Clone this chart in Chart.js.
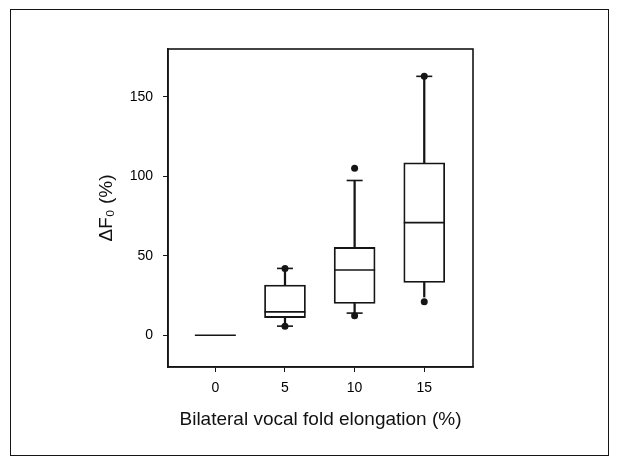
<!DOCTYPE html>
<html>
<head>
<meta charset="utf-8">
<title>Delta F0 vs vocal fold elongation</title>
<script src="https://cdn.jsdelivr.net/npm/chart.js@4/dist/chart.umd.min.js"></script>
<style>
    html, body { margin: 0; padding: 0; background: #fff; }
    #wrap { position: relative; width: 621px; height: 465px; }
    #frame {
        position: absolute; left: 10px; top: 9px; width: 597px; height: 445px;
        border: 1.5px solid #151515; pointer-events: none;
    }
    canvas { position: absolute; left: 0; top: 0; }
</style>
</head>
<body>
<div id="wrap">
    <canvas id="boxChart" width="621" height="465"></canvas>
    <div id="frame"></div>
</div>
<script>
// elongation groups (%)
const groups = [0, 5, 10, 15];
const xTicks = [0, 5, 10, 15];
const yTicks = [0, 50, 100, 150];

// box plot stats (null = no box)
const q1 = [null, 11.1, 20.0, 33.2];
const q3 = [null, 31.5, 55.2, 108.4];
const medians = [0, 14.7, 41.0, 70.8];
const whiskerLow = [null, 5.7, 13.9, 24.0];
const whiskerHigh = [null, 42.0, 97.3, 162.8];
const capLow = [null, 5.7, 13.9, null];
const capHigh = [null, 42.0, 97.3, 162.8];
const outlierX = [5, 5, 10, 10, 15, 15];
const outlierY = [5.7, 42.0, 12.2, 105.0, 21.0, 162.8];

const INK = '#151515';

function ranges(lo, hi) {
    return groups
        .map((g, i) => (lo[i] == null || hi[i] == null) ? null : { x: g, y: [lo[i], hi[i]] })
        .filter(d => d !== null);
}
function points(vals) {
    return groups
        .map((g, i) => vals[i] == null ? null : { x: g, y: vals[i] })
        .filter(d => d !== null);
}

// top/right sides of the plot frame
const plotFrame = {
    id: 'plotFrame',
    afterDraw(chart) {
        const a = chart.chartArea;
        const ctx = chart.ctx;
        ctx.save();
        ctx.strokeStyle = INK;
        ctx.lineWidth = 1.6;
        ctx.strokeRect(a.left, a.top, a.right - a.left, a.bottom - a.top);
        ctx.restore();
    }
};

const ctx = document.getElementById('boxChart').getContext('2d');
new Chart(ctx, {
    type: 'bar',
    data: {
        datasets: [
            {
                label: 'IQR',
                data: ranges(q1, q3),
                backgroundColor: '#fff',
                borderColor: INK,
                borderWidth: 1.8,
                borderSkipped: false,
                barThickness: 41,
                grouped: false,
                order: 3
            },
            {
                label: 'upper whisker',
                data: ranges(q3, whiskerHigh),
                backgroundColor: INK,
                borderWidth: 0,
                barThickness: 1.6,
                grouped: false,
                order: 4
            },
            {
                label: 'lower whisker',
                data: ranges(whiskerLow, q1),
                backgroundColor: INK,
                borderWidth: 0,
                barThickness: 1.6,
                grouped: false,
                order: 4
            },
            {
                type: 'scatter',
                label: 'median',
                data: points(medians),
                pointStyle: 'line',
                pointRadius: 20.5,
                borderColor: INK,
                borderWidth: 1.6,
                order: 1
            },
            {
                type: 'scatter',
                label: 'caps',
                data: points(capLow).concat(points(capHigh)),
                pointStyle: 'line',
                pointRadius: 8,
                borderColor: INK,
                borderWidth: 1.6,
                order: 2
            },
            {
                type: 'scatter',
                label: 'outliers',
                data: outlierX.map((x, i) => ({ x: x, y: outlierY[i] })),
                pointStyle: 'circle',
                pointRadius: 3.5,
                backgroundColor: INK,
                borderColor: INK,
                borderWidth: 0,
                order: 0
            }
        ]
    },
    options: {
        responsive: false,
        animation: false,
        events: [],
        layout: { padding: { left: 90, right: 148, top: 49, bottom: 28 } },
        plugins: {
            legend: { display: false },
            tooltip: { enabled: false }
        },
        scales: {
            x: {
                type: 'linear',
                min: -3.4,
                max: 18.5,
                offset: false,
                afterBuildTicks: s => { s.ticks = xTicks.map(v => ({ value: v })); },
                afterFit: s => { s.height = 70; },
                grid: {
                    offset: false,
                    drawOnChartArea: false,
                    drawTicks: true,
                    tickLength: 5,
                    color: INK
                },
                border: { display: true, color: INK, width: 1.6 },
                ticks: {
                    padding: 8,
                    color: '#000',
                    font: { family: 'Liberation Sans, Arial, sans-serif', size: 14 }
                },
                title: {
                    display: true,
                    text: 'Bilateral vocal fold elongation (%)',
                    color: '#111',
                    padding: { top: 0, bottom: 5.6 },
                    font: { family: 'Liberation Sans, Arial, sans-serif', size: 19 }
                }
            },
            y: {
                min: -20,
                max: 180,
                afterBuildTicks: s => { s.ticks = yTicks.map(v => ({ value: v })); },
                afterFit: s => { s.width = 78; },
                grid: {
                    drawOnChartArea: false,
                    drawTicks: true,
                    tickLength: 5,
                    color: INK
                },
                border: { display: true, color: INK, width: 1.6 },
                ticks: {
                    padding: 10,
                    color: '#000',
                    font: { family: 'Liberation Sans, Arial, sans-serif', size: 14 }
                },
                title: {
                    display: true,
                    text: 'ΔF₀ (%)',
                    color: '#111',
                    padding: { top: 5.6, bottom: 0 },
                    font: { family: 'Liberation Sans, Arial, sans-serif', size: 19 }
                }
            }
        }
    },
    plugins: [plotFrame]
});
</script>
</body>
</html>
